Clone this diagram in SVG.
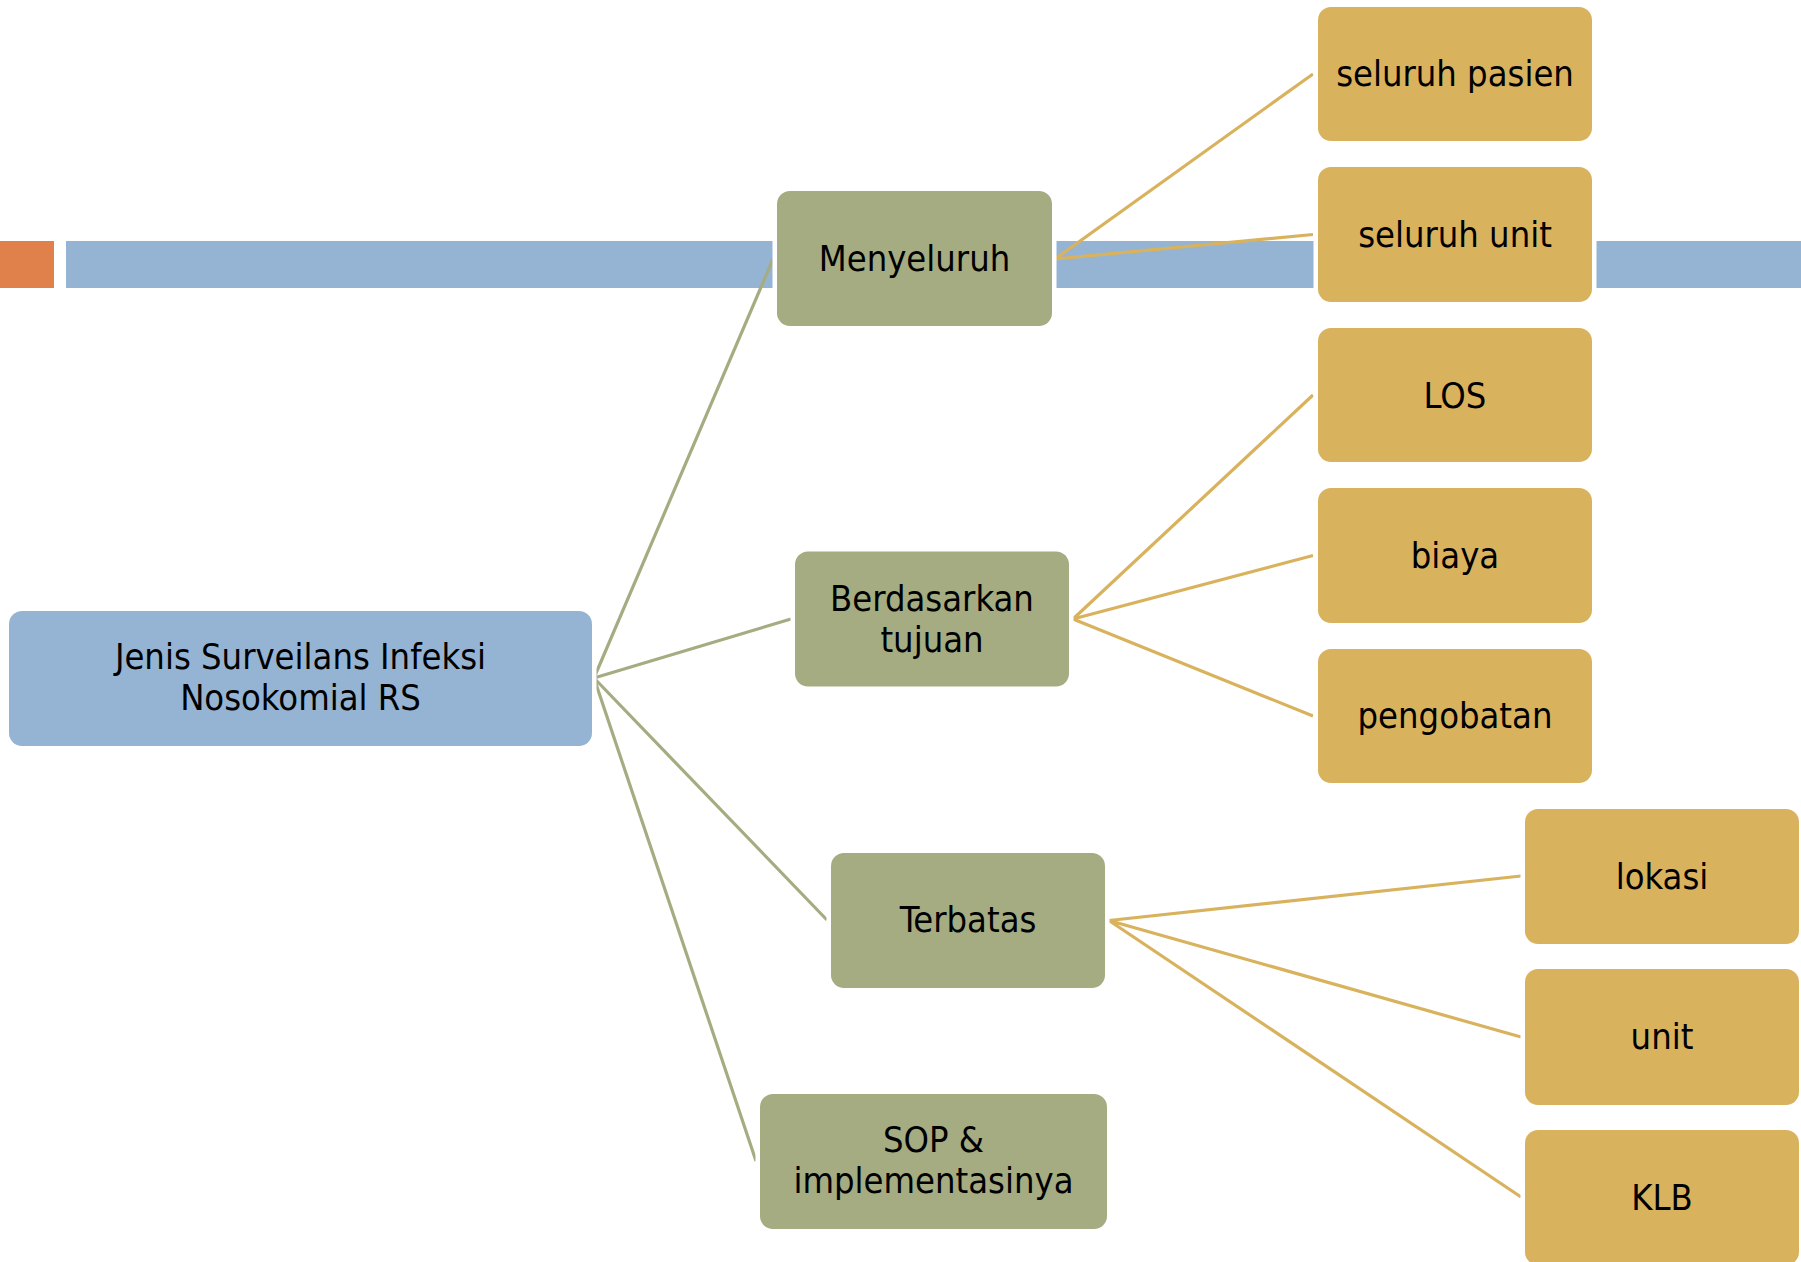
<svg xmlns="http://www.w3.org/2000/svg" width="1801" height="1262" viewBox="0 0 1801 1262">
<style>
.t{font-family:"DejaVu Sans Condensed","DejaVu Sans",sans-serif;font-stretch:condensed;font-size:36px;fill:#000;text-anchor:middle}
.root,.lv1,.lv2{stroke:#fff;stroke-width:9;paint-order:stroke}
.root{fill:#95B4D3}
.lv1{fill:#A5AC81}
.lv2{fill:#D9B25E}
.c1{stroke:#A5AC81;stroke-width:3.2;fill:none}
.c2{stroke:#D9B25E;stroke-width:3.2;fill:none}
</style>
<rect width="1801" height="1262" fill="#fff"/>
<g id="decor">
<rect x="0" y="241" width="54" height="47" fill="#E0804A"/>
<rect x="66" y="241" width="1735" height="47" fill="#95B4D3"/>
</g>
<g id="connectors">
<path class="c1" d="M594 678L773 259M594 678L791 619M594 678L827 920M594 678L756 1161"/>
<path class="c2" d="M1055 259L1313 74M1055 259L1313 234.5"/>
<path class="c2" d="M1073 619L1313 395M1073 619L1313 555.5M1073 619L1313 716"/>
<path class="c2" d="M1109 920.5L1521 876M1109 920.5L1521 1037M1109 920.5L1521 1197"/>
</g>
<g id="root"><rect class="root" x="9" y="611" width="583" height="135" rx="13"/>
<text class="t" x="300.5" y="669">Jenis Surveilans Infeksi</text><text class="t" x="300.5" y="710">Nosokomial RS</text></g>
<g id="menyeluruh"><rect class="lv1" x="777" y="191" width="275" height="135" rx="13"/><text class="t" x="914.5" y="271">Menyeluruh</text></g>
<g id="berdasarkan"><rect class="lv1" x="795" y="551.5" width="274" height="135" rx="13"/><text class="t" x="932" y="611">Berdasarkan</text><text class="t" x="932" y="652">tujuan</text></g>
<g id="terbatas"><rect class="lv1" x="831" y="853" width="274" height="135" rx="13"/><text class="t" x="968" y="932">Terbatas</text></g>
<g id="sop"><rect class="lv1" x="760" y="1094" width="347" height="135" rx="13"/><text class="t" x="933.5" y="1152">SOP &amp;</text><text class="t" x="933.5" y="1193">implementasinya</text></g>
<g id="seluruh-pasien"><rect class="lv2" x="1318" y="7" width="274" height="134" rx="13"/><text class="t" x="1455" y="86">seluruh pasien</text></g>
<g id="seluruh-unit"><rect class="lv2" x="1318" y="167" width="274" height="135" rx="13"/><text class="t" x="1455" y="247">seluruh unit</text></g>
<g id="los"><rect class="lv2" x="1318" y="328" width="274" height="134" rx="13"/><text class="t" x="1455" y="408">LOS</text></g>
<g id="biaya"><rect class="lv2" x="1318" y="488" width="274" height="135" rx="13"/><text class="t" x="1455" y="568">biaya</text></g>
<g id="pengobatan"><rect class="lv2" x="1318" y="649" width="274" height="134" rx="13"/><text class="t" x="1455" y="728">pengobatan</text></g>
<g id="lokasi"><rect class="lv2" x="1525" y="809" width="274" height="135" rx="13"/><text class="t" x="1662" y="889">lokasi</text></g>
<g id="unit"><rect class="lv2" x="1525" y="969" width="274" height="136" rx="13"/><text class="t" x="1662" y="1049">unit</text></g>
<g id="klb"><rect class="lv2" x="1525" y="1130" width="274" height="135" rx="13"/><text class="t" x="1662" y="1210">KLB</text></g>
</svg>
